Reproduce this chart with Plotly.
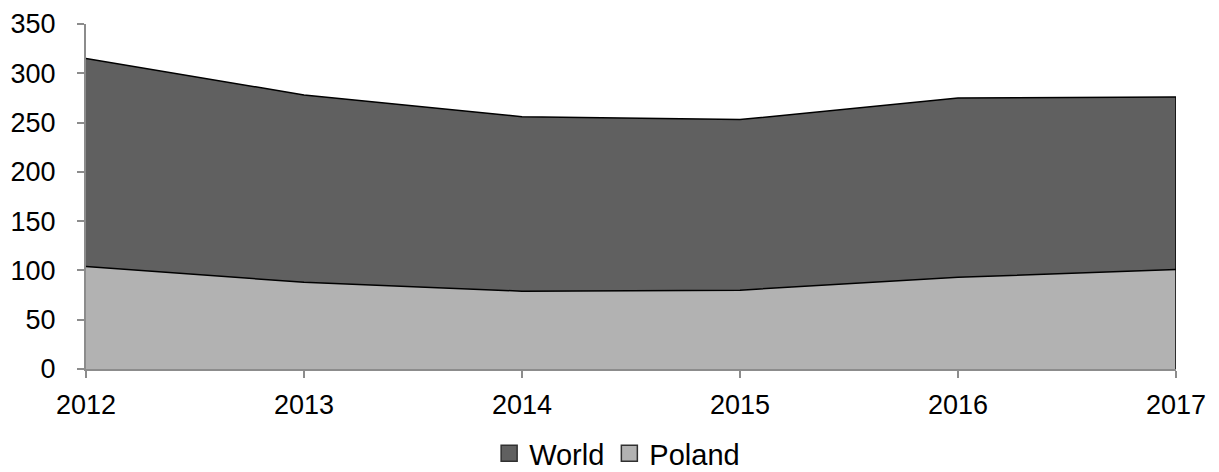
import plotly.graph_objects as go

years = [2012, 2013, 2014, 2015, 2016, 2017]
world = [315, 278, 256, 253, 275, 276]
poland = [104, 88, 79, 80, 93, 101]

world_color = "#606060"
poland_color = "#b2b2b2"
axis_color = "#8c8c8c"
font_family = "Liberation Sans, Arial, sans-serif"

fig = go.Figure()

for name, vals, col in [("World", world, world_color), ("Poland", poland, poland_color)]:
    fig.add_trace(go.Scatter(
        x=years, y=vals, name=name, mode="lines",
        fill="tozeroy", fillcolor=col,
        line=dict(color="black", width=1.5),
        hoverinfo="skip", showlegend=False,
    ))
    # right-hand outline edge of the area (as drawn by the original)
    fig.add_trace(go.Scatter(
        x=[years[-1], years[-1]], y=[vals[-1], 0], mode="lines",
        line=dict(color="black", width=1.5), showlegend=False, hoverinfo="skip",
    ))

# legend entries shown as bordered squares
for name, col in [("World", world_color), ("Poland", poland_color)]:
    fig.add_trace(go.Scatter(
        x=[None], y=[None], name=name, mode="markers",
        marker=dict(symbol="square", size=16, color=col,
                    line=dict(color="#303030", width=1.5)),
        hoverinfo="skip",
    ))

fig.update_layout(
    width=1211, height=464,
    margin=dict(l=78, r=43, t=16, b=103, autoexpand=False),
    paper_bgcolor="white", plot_bgcolor="white",
    font=dict(family=font_family, size=27, color="black"),
    showlegend=True,
    legend=dict(
        orientation="h", xref="container", x=0.503, xanchor="center",
        yref="container", y=0.04, yanchor="middle",
        font=dict(size=29), itemwidth=30, traceorder="normal",
        tracegroupgap=0, itemsizing="trace",
    ),
)
fig.update_xaxes(
    range=[years[0], years[-1]], tickmode="array", tickvals=years,
    ticktext=[str(y) for y in years],
    showline=True, linecolor=axis_color, linewidth=2,
    ticks="outside", ticklen=7, tickcolor=axis_color, tickwidth=1.5,
    showgrid=False, zeroline=False, ticklabelstandoff=4,
    layer="above traces", automargin=False,
)
fig.update_yaxes(
    range=[0, 350], tickmode="linear", dtick=50, tick0=0,
    showline=True, linecolor=axis_color, linewidth=2,
    ticks="outside", ticklen=7, tickcolor=axis_color, tickwidth=1.5,
    showgrid=False, zeroline=False, ticklabelstandoff=16,
    layer="above traces", automargin=False,
)

fig.write_html("out.html")
